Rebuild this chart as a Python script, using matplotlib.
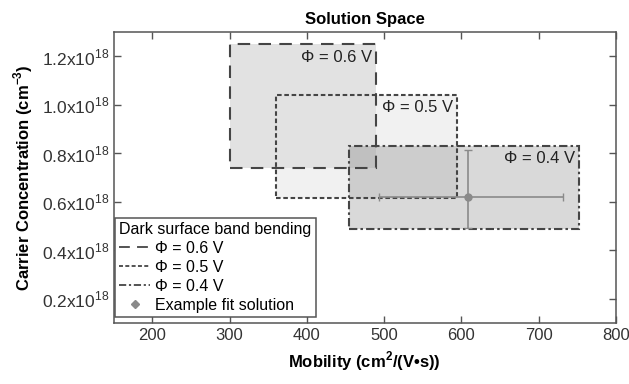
import matplotlib
matplotlib.use("Agg")
from matplotlib import pyplot as plt
from matplotlib.patches import Rectangle
from matplotlib.lines import Line2D

plt.rcParams['font.family'] = ['Liberation Sans', 'DejaVu Sans']
plt.rcParams['mathtext.fontset'] = 'custom'
plt.rcParams['mathtext.rm'] = 'Liberation Sans'
plt.rcParams['mathtext.bf'] = 'Liberation Sans:bold'

# solution boxes (mobility range, concentration range in 1e18 cm^-3)
labels = ['\u03a6 = 0.6 V', '\u03a6 = 0.5 V', '\u03a6 = 0.4 V']
mob_lo = [300, 360, 454]
mob_hi = [490, 595, 753]
conc_lo = [0.74, 0.615, 0.487]
conc_hi = [1.25, 1.04, 0.83]

# example fit solution
fit_mob = 609
fit_conc = 0.621
fit_mob_err = [115, 123]
fit_conc_err = [0.13, 0.19]

yticks = [0.2, 0.4, 0.6, 0.8, 1.0, 1.2]
xticks = [200, 300, 400, 500, 600, 700, 800]

styles = [(0, (6, 4)), (0, (2.2, 1.3)), (0, (4, 1.5, 1.2, 1.5))]
fills = ['#e2e2e2', '#f1f1f1', (0, 0, 0, 0.15)]
draw_order = [1, 0, 2]
edge = '#454545'

fig = plt.figure(figsize=(6.29, 3.84), dpi=100)
ax = fig.add_axes([0.181, 0.159, 0.798, 0.758])

# fills first, edges on top
for i in draw_order:
    ax.add_patch(Rectangle((mob_lo[i], conc_lo[i]), mob_hi[i] - mob_lo[i], conc_hi[i] - conc_lo[i],
                           facecolor=fills[i], edgecolor='none', zorder=1))
handles = []
for i in range(3):
    ax.add_patch(Rectangle((mob_lo[i], conc_lo[i]), mob_hi[i] - mob_lo[i], conc_hi[i] - conc_lo[i],
                           facecolor='none', edgecolor=edge, lw=1.5, ls=styles[i], zorder=2))
    ax.annotate(labels[i], (mob_hi[i], conc_hi[i]), xytext=(-3, -4), textcoords='offset points',
                ha='right', va='top', fontsize=12, color='#222222', zorder=4)
    handles.append(Line2D([], [], color=edge, lw=1.3, ls=styles[i], label=labels[i]))

ax.errorbar([fit_mob], [fit_conc],
            xerr=[[fit_mob_err[0]], [fit_mob_err[1]]],
            yerr=[[fit_conc_err[0]], [fit_conc_err[1]]],
            fmt='o', ms=5, color='#8a8a8a', ecolor='#8a8a8a', elinewidth=1.2, capsize=3, zorder=3)
handles.append(Line2D([], [], color='#8a8a8a', marker='D', ms=4, ls='none', label='Example fit solution'))

ax.set_xlim(150, 800)
ax.set_ylim(0.1, 1.3)
ax.set_xticks(xticks)
ax.set_xticklabels([str(v) for v in xticks], fontsize=12, color='#333333')
ax.set_yticks(yticks)
ax.set_yticklabels(['%.1fx10$^{18}$' % v for v in yticks], fontsize=12.5, color='#333333')
ax.tick_params(direction='in', length=5, top=True, right=True, color='#555555', width=1)
for s in ax.spines.values():
    s.set_color('#555555')
    s.set_linewidth(1.1)

ax.set_title('Solution Space', fontsize=12, fontweight='bold', pad=6)
ax.set_xlabel('Mobility (cm$^{\\mathbf{2}}$/(V\u2022s))', fontsize=12, fontweight='bold', labelpad=5)
ax.set_ylabel('Carrier Concentration (cm$^{\\mathbf{-3}}$)', fontsize=12, fontweight='bold', labelpad=5)

leg = ax.legend(handles=handles, title='Dark surface band bending', loc='lower left',
                bbox_to_anchor=(0.0, 0.015), fontsize=11.5, title_fontsize=11.5,
                handlelength=1.9, handletextpad=0.35, labelspacing=0.25,
                borderpad=0.25, borderaxespad=0.1, fancybox=False, framealpha=1)
leg.get_frame().set_edgecolor('#555555')
leg.get_frame().set_linewidth(1.1)
leg._legend_box.align = 'left'

fig.savefig('out.png', dpi=100)
